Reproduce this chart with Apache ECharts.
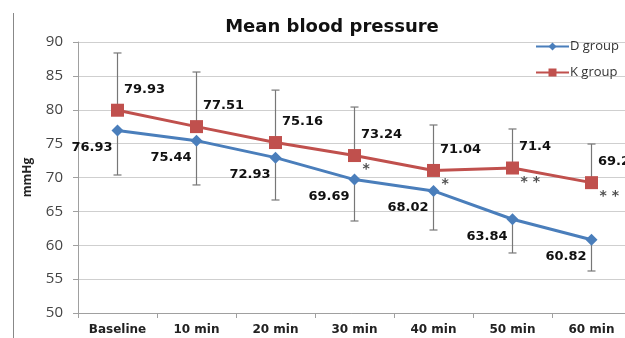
<!DOCTYPE html>
<html><head><meta charset="utf-8">
<script src="https://cdn.jsdelivr.net/npm/echarts@6/dist/echarts.min.js"></script>
<style>html,body{margin:0;padding:0;background:#fff}#c{width:625px;height:338px}</style>
</head><body><div id="c"></div>
<script>
const categories = ['Baseline','10 min','20 min','30 min','40 min','50 min','60 min'];
const dMean = [76.93, 75.44, 72.93, 69.69, 68.02, 63.84, 60.82];
const kMean = [79.93, 77.51, 75.16, 73.24, 71.04, 71.4, 69.24];
const dSd = [6.56, 6.54, 6.25, 6.11, 5.77, 4.98, 4.62];
const kSd = [8.45, 8.06, 7.74, 7.16, 6.71, 5.76, 5.70];
const sigMarks = ['', '', '', '*', '*', '* *', '* *'];
const yTicks = [50, 55, 60, 65, 70, 75, 80, 85, 90];

const chart = echarts.init(document.getElementById('c'), null, {renderer:'canvas'});
const FONT = '"Open Sans", sans-serif';
const DJ = '"DejaVu Sans", sans-serif';

function errBar(color){
  return function(params, api){
    const x = api.value(0), m = api.value(1), e = api.value(2);
    const p1 = api.coord([x, m]), p2 = api.coord([x, e]);
    const st = {stroke: color, lineWidth: 1.2};
    return {type:'group', children:[
      {type:'line', shape:{x1:p1[0], y1:p1[1], x2:p2[0], y2:p2[1]}, style:st},
      {type:'line', shape:{x1:p2[0]-4, y1:p2[1], x2:p2[0]+4, y2:p2[1]}, style:st}
    ]};
  };
}

chart.setOption({
  animation:false,
  backgroundColor:'#fff',
  title:{text:'Mean blood pressure', left:327, top:13, textAlign:'center',
    textStyle:{fontFamily:DJ, fontWeight:'bold', fontSize:18, color:'#111'}},
  legend:{orient:'vertical', left:530, top:35, itemGap:13, itemWidth:33, itemHeight:10,
    textStyle:{fontFamily:FONT, fontSize:13, color:'#333', padding:[0,0,0,-4]},
    data:['D group','K group']},
  graphic:[{type:'line', shape:{x1:13.5, y1:13, x2:13.5, y2:338}, style:{stroke:'#888', lineWidth:1}}],
  grid:{left:78, width:553, top:42, bottom:25, containLabel:false, outerBoundsMode:'none'},
  xAxis:{type:'category', data:categories, boundaryGap:true,
    axisLine:{lineStyle:{color:'#a0a0a0'}},
    axisTick:{show:true, length:5, lineStyle:{color:'#a0a0a0'}},
    axisLabel:{fontFamily:DJ, fontWeight:'bold', fontSize:12, color:'#222', margin:11}},
  yAxis:{type:'value', min:yTicks[0], max:yTicks[yTicks.length-1], interval:5,
    name:'mmHg', nameLocation:'middle', nameGap:44, nameRotate:90,
    nameTextStyle:{fontFamily:FONT, fontWeight:'bold', fontSize:12, color:'#222'},
    axisLine:{show:true, lineStyle:{color:'#a0a0a0'}},
    axisTick:{show:true, inside:false, length:5, lineStyle:{color:'#a0a0a0'}},
    splitLine:{lineStyle:{color:'#cfcfcf'}},
    axisLabel:{fontFamily:FONT, fontSize:15, color:'#444', margin:15}},
  series:[
    {type:'custom', name:'Kerr', z:1, renderItem:errBar('#777'), silent:true,
      data:categories.map((c,i)=>[i, kMean[i], kMean[i]+kSd[i]])},
    {type:'custom', name:'Derr', z:1, renderItem:errBar('#777'), silent:true,
      data:categories.map((c,i)=>[i, dMean[i], dMean[i]-dSd[i]])},
    {type:'line', name:'D group', data:dMean, z:3, symbol:'diamond', symbolSize:12,
      color:'#4a7ebb', lineStyle:{width:3, color:'#4a7ebb'}, itemStyle:{color:'#4a7ebb'},
      label:{show:true, position:'left', distance:0, offset:[1,17], fontFamily:DJ, fontWeight:'bold', fontSize:13, color:'#111'}},
    {type:'line', name:'K group', data:kMean, z:3, symbol:'rect', symbolSize:13,
      color:'#c0504d', lineStyle:{width:3, color:'#c0504d'}, itemStyle:{color:'#c0504d'},
      label:{show:true, position:'right', distance:0, offset:[0,-21], fontFamily:DJ, fontWeight:'bold', fontSize:13, color:'#111'}},
    {type:'scatter', name:'sig', data:kMean, symbolSize:0, z:4, silent:true,
      label:{show:true, position:'right', distance:8, offset:[0,14], fontFamily:DJ, fontWeight:'bold', fontSize:14, color:'#222',
        formatter:p=>sigMarks[p.dataIndex]}}
  ]
});
</script></body></html>
